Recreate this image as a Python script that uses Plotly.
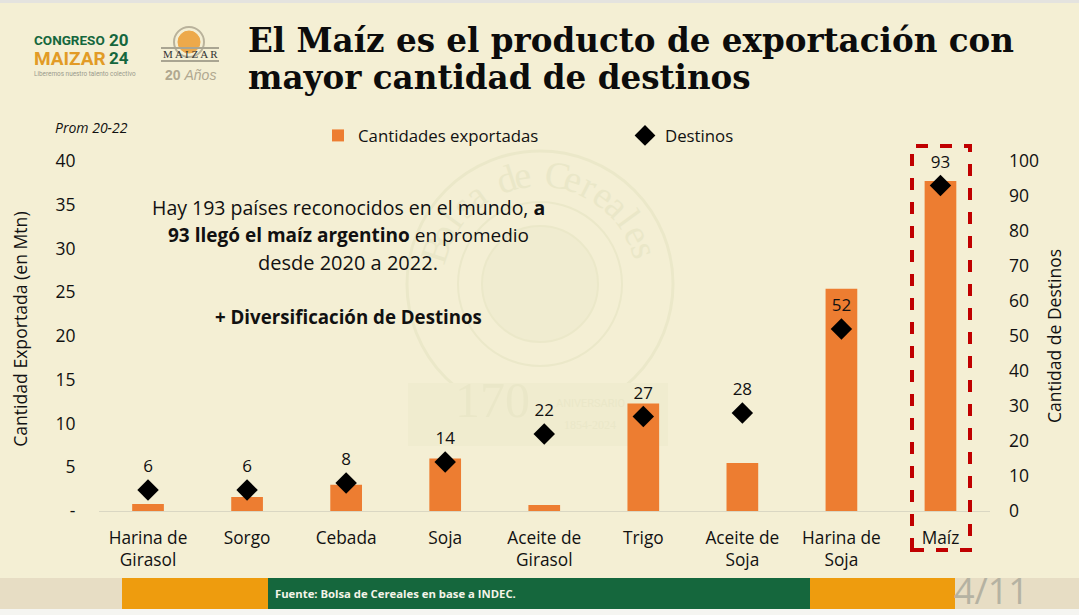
import math
import plotly.graph_objects as go

categories = ["Harina de<br>Girasol", "Sorgo", "Cebada", "Soja", "Aceite de<br>Girasol", "Trigo",
              "Aceite de<br>Soja", "Harina de<br>Soja", "Maíz"]
cantidades = [0.8, 1.6, 3.0, 6.0, 0.7, 12.3, 5.5, 25.4, 37.7]
destinos = [6, 6, 8, 14, 22, 27, 28, 52, 93]
left_ticks = [0, 5, 10, 15, 20, 25, 30, 35, 40]
left_labels = ["-", "5", "10", "15", "20", "25", "30", "35", "40"]
right_ticks = [0, 10, 20, 30, 40, 50, 60, 70, 80, 90, 100]

W, H = 1079, 615
BG = "#F4EFD4"
TXT = "#111111"
FONT = "Open Sans"
WM = "#EBE8C9"
WM2 = "#EAE7C8"
GREEN = "#15673D"
ORANGE = "#EE9C0E"
BAR = "#ED7D31"
LOGO = "Roboto"


def px(x):
    return x / W


def py(y):
    return 1 - y / H


def rect(x0, y0, x1, y1, color, layer="below", **kw):
    return dict(type="rect", xref="paper", yref="paper", x0=px(x0), x1=px(x1), y0=py(y0), y1=py(y1),
                fillcolor=color, line=dict(width=0), layer=layer, **kw)


def circle(cx, cy, r, color, fill=None, width=2):
    return dict(type="circle", xref="paper", yref="paper", x0=px(cx - r), x1=px(cx + r), y0=py(cy + r), y1=py(cy - r),
                line=dict(color=color, width=width), fillcolor=fill or "rgba(0,0,0,0)", layer="below")


def txt(x, y, s, size, color=TXT, family=FONT, anchor="center", angle=0):
    return dict(text=s, xref="paper", yref="paper", x=px(x), y=py(y), xanchor=anchor, yanchor="middle",
                showarrow=False, textangle=angle, font=dict(size=size, color=color, family=family))


shapes = [
    rect(0, 0, W, 3, "#E4E3DF"),
    rect(0, 578, W, 609, "#E7DDC4"),
    rect(122, 578, 268, 609, ORANGE),
    rect(268, 578, 810, 609, GREEN),
    rect(810, 578, 955, 609, ORANGE),
    rect(0, 609, W, H, "#F5F5F1"),
    # watermark
    circle(540, 284, 133, WM, width=3),
    circle(540, 284, 82, WM, width=2),
    circle(540, 284, 58, WM, fill="#F0ECD0", width=2),
    rect(408, 383, 668, 446, "#F0ECCF"),
    # logo 2
    circle(189, 42, 15, "#B9B29B", width=2),
    circle(189, 42, 11, "#EDA94A", fill="#EDA94A", width=1),
    rect(161, 47, 219, 49, "#A9A592"),
    rect(161, 60, 219, 62, "#A9A592"),
    # highlight box
    dict(type="rect", xref="paper", yref="paper", x0=px(912), x1=px(970), y0=py(550), y1=py(146),
         line=dict(color="#C00000", width=4, dash="dash"), layer="above"),
]

annotations = []
# watermark lettering around the seal (first, so it lies beneath the other texts)
word = "Bolsa de Cereales"
for i, ch in enumerate(word):
    a = -72 + i * 9
    r = 110
    ax = 540 + r * math.sin(math.radians(a))
    ay = 284 - r * math.cos(math.radians(a))
    annotations.append(txt(ax, ay, ch, 38, WM2, "Liberation Serif", angle=a))

annotations += [
    txt(492, 400, "170", 50, WM2, "Liberation Serif"),
    txt(590, 403, "ANIVERSARIO", 11, WM2, "Roboto"),
    txt(590, 425, "1854-2024", 12, WM2, "Liberation Serif"),
    txt(246, 40, "<b>El Maíz es el producto de exportación con</b>", 32.6, "#0C0C0C", "DejaVu Serif", "left"),
    txt(246, 77, "<b>mayor cantidad de destinos</b>", 32.6, "#0C0C0C", "DejaVu Serif", "left"),
    txt(53, 127, "<i>Prom 20-22</i>", 14, TXT, FONT, "left"),
    txt(348, 208, "Hay 193 países reconocidos en el mundo, <b>a</b>", 19.5),
    txt(348, 235, "<b>93 llegó el maíz argentino</b> en promedio", 19),
    txt(348, 262, "desde 2020 a 2022.", 20),
    txt(348, 316, "<b>+ Diversificación de Destinos</b>", 18.7),
    txt(273, 593, "<b>Fuente: Bolsa de Cereales en base a INDEC.</b>", 11.3, "#F4F4E8", FONT, "left"),
    txt(991, 590, "4/11", 36, "#B5B2A2", FONT),
    # logos
    txt(32, 40, "<b>CONGRESO</b>", 13.5, GREEN, LOGO, "left"),
    txt(107, 40, "<b>20</b>", 17, GREEN, LOGO, "left"),
    txt(32, 58, "<b>MAIZAR</b>", 19, "#E29B26", LOGO, "left"),
    txt(107, 58, "<b>24</b>", 17, GREEN, LOGO, "left"),
    txt(32, 74, "Liberemos nuestro talento colectivo", 6.4, "#9A9A8C", LOGO, "left"),
    txt(190, 54, "M A I Z A R", 11, "#333333", "Liberation Serif"),
    txt(190, 75, "<b>20</b> <i>Años</i>", 14, "#B0A890", "Liberation Sans"),
]

fig = go.Figure()
fig.add_trace(go.Bar(x=categories, y=cantidades, name="Cantidades exportadas", marker=dict(color=BAR, line=dict(width=0)),
                     width=0.32, yaxis="y"))
fig.add_trace(go.Scatter(x=categories, y=destinos, name="Destinos", mode="markers", yaxis="y2", cliponaxis=False,
                         marker=dict(symbol="diamond", size=16.5, color="#000000")))
fig.add_trace(go.Scatter(x=categories, y=destinos, mode="markers+text", yaxis="y2", showlegend=False, cliponaxis=False,
                         marker=dict(symbol="diamond", size=20, opacity=0),
                         text=[str(v) for v in destinos], textposition="top center",
                         textfont=dict(size=17, color=TXT, family=FONT)))

fig.update_layout(
    width=W, height=H, autosize=False, margin=dict(l=0, r=0, t=0, b=0),
    paper_bgcolor=BG, plot_bgcolor="rgba(0,0,0,0)",
    font=dict(family=FONT, color=TXT, size=17),
    showlegend=True,
    legend=dict(orientation="h", x=px(318), y=py(118), xanchor="left", yanchor="top",
                entrywidth=262, entrywidthmode="pixels", font=dict(size=16.8, color=TXT, family=FONT),
                bgcolor="rgba(0,0,0,0)", itemsizing="trace"),
    xaxis=dict(domain=[px(98.5), px(990)], type="category", tickfont=dict(size=17.3, color=TXT), showgrid=False,
               showline=True, linecolor="#DAD7C3", linewidth=1, ticks="", ticklabelstandoff=11,
               tickangle=0, range=[-0.5, 8.5], automargin=False),
    yaxis=dict(domain=[py(511), py(161)], range=[0, 40], tickvals=left_ticks, ticktext=left_labels,
               tickfont=dict(size=17.5, color=TXT), showgrid=False, zeroline=False, showline=False, ticks="",
               ticklabelstandoff=22, automargin=False,
               title=dict(text="&nbsp;&nbsp;&nbsp;Cantidad Exportada (en Mtn)", font=dict(size=17.6, color=TXT), standoff=23)),
    yaxis2=dict(overlaying="y", side="right", range=[0, 100], tickvals=right_ticks,
                tickfont=dict(size=17.5, color=TXT), showgrid=False, zeroline=False, showline=False, ticks="",
                ticklabelstandoff=18, automargin=False,
                title=dict(text="Cantidad de Destinos", font=dict(size=17.5, color=TXT), standoff=10)),
    shapes=shapes, annotations=annotations,
)

fig.write_html("out.html", config={"displayModeBar": False}, post_script="document.body.style.margin='0';")
